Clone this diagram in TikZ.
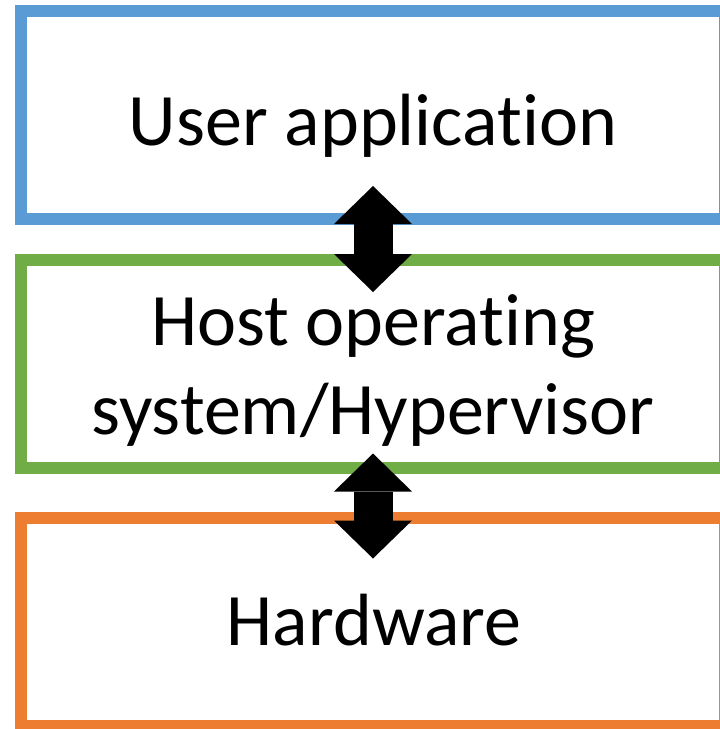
\documentclass[tikz,border=0pt]{standalone}
\usepackage{fontspec}
\setmainfont{Carlito}[Ligatures = NoCommon]
\usepackage{xcolor}
\usetikzlibrary{arrows.meta, positioning}

\definecolor{appblue}{HTML}{5B9BD5}
\definecolor{osgreen}{HTML}{70AD47}
\definecolor{hworange}{HTML}{ED7D31}

\begin{document}
\begin{tikzpicture}[x = 1pt, y = -1pt,
		layer/.style = {draw, line width = 12pt, outer sep = 0pt, minimum width = 704pt, minimum height = 208pt},
		layertext/.style = {font = \fontsize{74}{89}\selectfont, align = center, inner sep = 0pt},
		updown/.style = {line width = 39pt, arrows = {Triangle[width = 78pt, length = 38pt, line width = 0pt]-Triangle[width = 78pt, length = 38pt, line width = 0pt]}}]
		\useasboundingbox (0,0) rectangle (720,729);
		
		% the three layers, top to bottom
		\node [layer, appblue] (app) at (373,115) {};
		\node [layer, osgreen, below = 40.5pt of app] (os) {};
		\node [layer, hworange, below = 50pt of os] (hw) {};
		
		\node [layertext, anchor = base] (apptext) at (373,145) {User application};
		\node [layertext] (ostext) at (373,370.5) {Host operating\\system/Hypervisor};
		\node [layertext, anchor = base] (hwtext) at (374,645) {Hardware};
		
		% calls going both ways between layers
		\draw [updown] ([yshift = 33pt]app.south) -- ([yshift = -32.5pt]os.north);
		\draw [updown] ([yshift = 14pt]os.south) -- ([yshift = -41pt]hw.north);
	\end{tikzpicture}
\end{document}
